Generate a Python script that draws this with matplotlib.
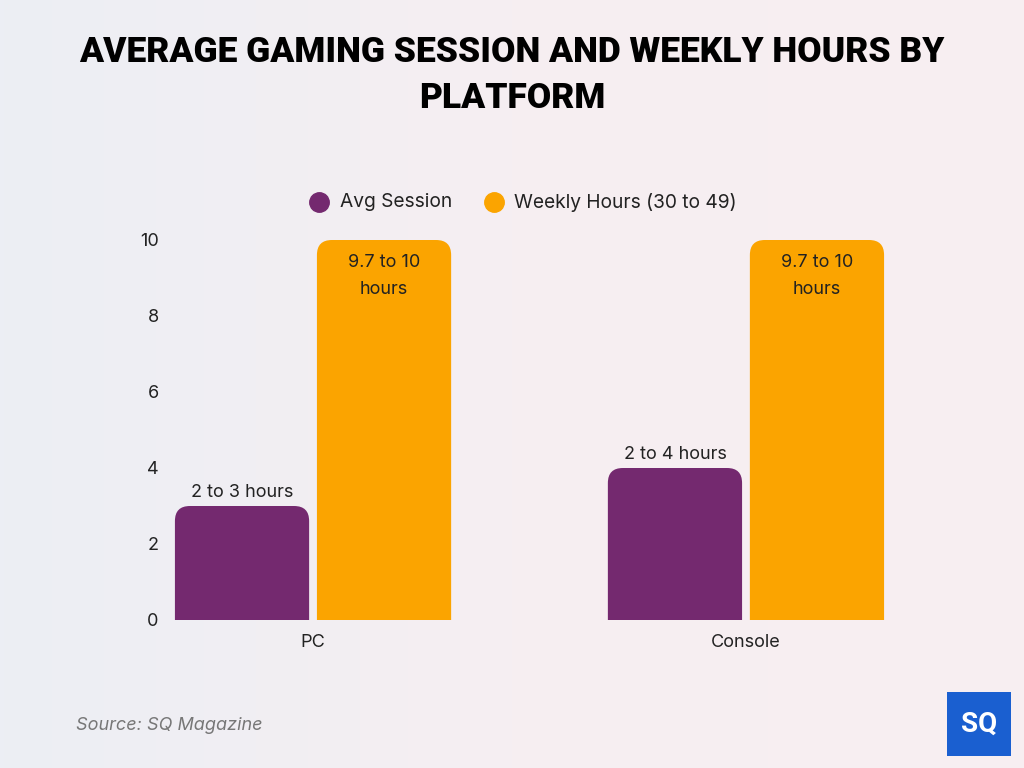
import numpy as np
import matplotlib.pyplot as plt
from matplotlib.patches import FancyBboxPatch, Rectangle
from matplotlib.lines import Line2D
from matplotlib.colors import LinearSegmentedColormap

# data
platforms = ["PC", "Console"]
avg_session = [3, 4]
weekly_hours = [10, 10]
avg_labels = ["2 to 3 hours", "2 to 4 hours"]
weekly_labels = ["9.7 to 10\nhours", "9.7 to 10\nhours"]
series_names = ["Avg Session", "Weekly Hours (30 to 49)"]

purple = "#74296f"
orange = "#fba400"
font = "Inter"

fig = plt.figure(figsize=(10.24, 7.68), dpi=100)

# background gradient
bg = fig.add_axes([0, 0, 1, 1], zorder=-10)
grad = np.linspace(0, 1, 256).reshape(1, -1)
cmap = LinearSegmentedColormap.from_list("bg", ["#eceef4", "#f6eff2", "#f8eef1"])
bg.imshow(grad, aspect="auto", cmap=cmap, extent=[0, 1, 0, 1])
bg.axis("off")

# title
fig.text(0.5, 1 - 52 / 768, "AVERAGE GAMING SESSION AND WEEKLY HOURS BY", ha="center", va="center",
         fontsize=25.5, fontweight="black", family="Roboto", color="#000000")
fig.text(0.5, 1 - 99 / 768, "PLATFORM", ha="center", va="center",
         fontsize=25.5, fontweight="black", family="Roboto", color="#000000")

ax = fig.add_axes([161.5 / 1024, 1 - 620 / 768, 736 / 1024, 10.2 * 38 / 768])
ax.set_facecolor("none")

x = np.arange(len(platforms))
w = 0.31
off = 0.164
ybot = -1
rpx = 15
ppx = 433.0  # pixels per x unit
ppy = 38.0   # pixels per y unit


def rounded_bars(xs, vals, color):
    for xc, v in zip(xs, vals):
        p = FancyBboxPatch((xc - w / 2, ybot), w, v - ybot,
                           boxstyle="round,pad=0,rounding_size=%f" % (rpx / ppx),
                           mutation_aspect=ppx / ppy,
                           facecolor=color, edgecolor="none")
        ax.add_patch(p)


rounded_bars(x - off, avg_session, purple)
rounded_bars(x + off, weekly_hours, orange)

for xc, v, lab in zip(x - off, avg_session, avg_labels):
    ax.text(xc, v + 0.12, lab, ha="center", va="bottom", fontsize=13, family=font, color="#222222")
for xc, v, lab in zip(x + off, weekly_hours, weekly_labels):
    ax.text(xc, v - 0.38, lab, ha="center", va="top", fontsize=13, family=font,
            color="#222222", linespacing=1.7)

ax.set_xlim(-0.35, 1.35)
ax.set_ylim(0, 10.2)
ax.set_yticks([0, 2, 4, 6, 8, 10])
ax.set_xticks(x)
ax.set_xticklabels(platforms)
for s in ax.spines.values():
    s.set_visible(False)
ax.tick_params(length=0, labelsize=13, colors="#222222")
ax.tick_params(axis="y", pad=2)
ax.tick_params(axis="x", pad=10)
for t in ax.get_xticklabels() + ax.get_yticklabels():
    t.set_family(font)

# legend
ly = 1 - 202 / 768
for mx, tx, col, name in [(319, 340, purple, series_names[0]), (494, 514, orange, series_names[1])]:
    fig.add_artist(Line2D([mx / 1024], [ly], marker="o", markersize=14, color=col,
                          linestyle="none", transform=fig.transFigure))
    fig.text(tx / 1024, ly, name, fontsize=13.8, family=font, ha="left", va="center", color="#222222")

# source
fig.text(76 / 1024, 1 - 725 / 768, "Source: SQ Magazine", fontsize=13, family=font,
         style="italic", color="#777777", ha="left", va="center")

# logo
fig.patches.append(Rectangle((947 / 1024, 1 - 756 / 768), 64 / 1024, 64 / 768,
                             transform=fig.transFigure, facecolor="#1a5fd0", edgecolor="none"))
fig.text(979 / 1024, 1 - 724 / 768, "SQ", fontsize=20, fontweight="bold", family="Roboto",
         color="white", ha="center", va="center")

fig.savefig("out.png", dpi=100)
